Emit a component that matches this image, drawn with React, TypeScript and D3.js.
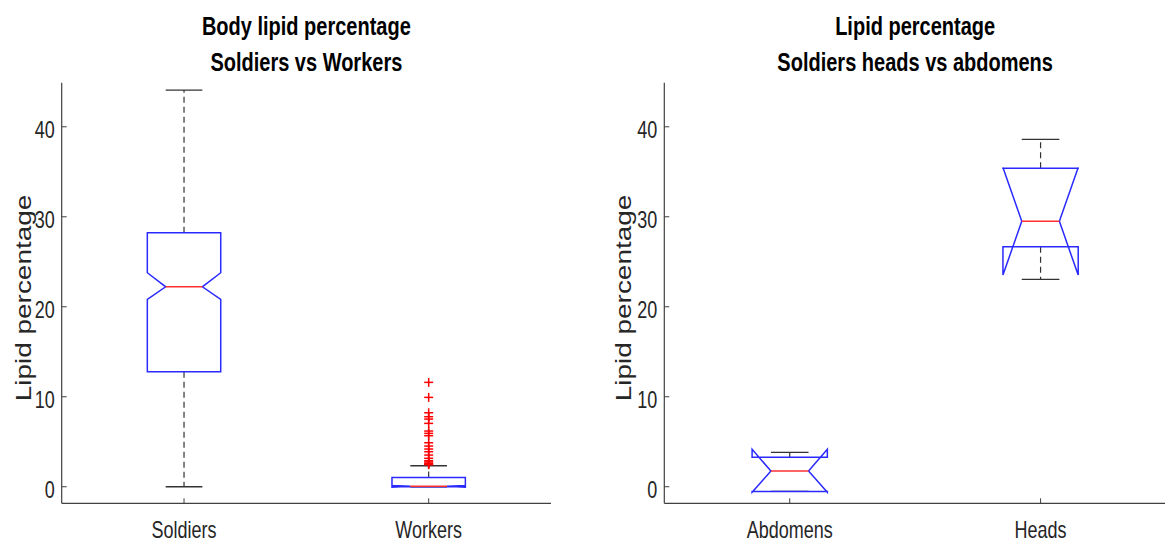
import React from "react";
import * as d3 from "d3";

// ---------- data ----------
const leftCategories = ["Soldiers", "Workers"];
const leftQ1 = [12.78, 0.0];
const leftMedian = [22.22, 0.05];
const leftQ3 = [28.22, 1.03];
const leftNotchLo = [20.82, -0.05];
const leftNotchHi = [23.78, 0.15];
const leftWhiskerLo = [0, 0];
const leftWhiskerHi = [44.08, 2.33];
const leftOutliers: number[][] = [
  [],
  [11.6, 9.93, 8.22, 7.78, 7.52, 7.04, 6.19, 5.93, 5.67, 4.89, 4.52, 4.19, 3.89, 3.52, 3.16, 2.89, 2.75, 2.6, 2.5, 2.45],
];

const rightCategories = ["Abdomens", "Heads"];
const rightQ1 = [-0.52, 26.67];
const rightMedian = [1.74, 29.5];
const rightQ3 = [3.27, 35.4];
const rightNotchLo = [-0.62, 23.52];
const rightNotchHi = [4.16, 35.48];
const rightWhiskerLo = [-0.52, 23.04];
const rightWhiskerHi = [3.82, 38.6];
const rightOutliers: number[][] = [[], []];

const yTicks = [0, 10, 20, 30, 40];
const yDomain = [-1.84, 44.9];

const leftTitle = ["Body lipid percentage", "Soldiers vs Workers"];
const rightTitle = ["Lipid percentage", "Soldiers heads vs abdomens"];
const yLabel = "Lipid percentage";

// ---------- style ----------
const FONT = "'Liberation Sans', Arial, Helvetica, sans-serif";
const TEXT = "#262626";
const AXIS = "#404040";
const STRETCH = 1.3;

const yScale = d3.scaleLinear().domain(yDomain).range([503.3, 82.7]);

type PanelProps = {
  x0: number;
  x1: number;
  categories: string[];
  q1: number[];
  med: number[];
  q3: number[];
  nlo: number[];
  nhi: number[];
  wlo: number[];
  whi: number[];
  outliers: number[][];
  title: string[];
  labelX: number;
};

function Panel(p: PanelProps) {
  const x = d3.scaleLinear().domain([0.5, 2.5]).range([p.x0, p.x1]);
  const y = yScale;
  const unit = x(1) - x(0);
  const bw = 0.15 * unit;
  const nw = 0.075 * unit;
  const cw = 0.075 * unit;
  const yBottom = y.range()[0];
  const yTop = y.range()[1];
  const cx = (p.x0 + p.x1) / 2;

  return (
    <g>
      {/* titles */}
      {p.title.map((t, i) => (
        <text
          key={i}
          transform={`translate(${cx},${i === 0 ? 35 : 71}) scale(1,${STRETCH})`}
          textAnchor="middle"
          fontFamily={FONT}
          fontWeight="bold"
          fontSize={20}
          fill="#000"
        >
          {t}
        </text>
      ))}
      {/* y label */}
      <text
        transform={`translate(${p.labelX},298) scale(1,${STRETCH}) rotate(-90)`}
        textAnchor="middle"
        fontFamily={FONT}
        fontSize={21.5}
        fill={TEXT}
      >
        {yLabel}
      </text>
      {/* axes */}
      <line x1={p.x0} x2={p.x0} y1={yTop} y2={yBottom} stroke={AXIS} strokeWidth={1.2} />
      <line x1={p.x0} x2={p.x1} y1={yBottom} y2={yBottom} stroke={AXIS} strokeWidth={1.2} />
      {yTicks.map((t) => (
        <g key={t}>
          <line x1={p.x0} x2={p.x0 + 5} y1={y(t)} y2={y(t)} stroke={AXIS} strokeWidth={1} />
          <text
            transform={`translate(${p.x0 - 7},${y(t) + 11.5}) scale(1,${STRETCH})`}
            textAnchor="end"
            fontFamily={FONT}
            fontSize={18}
            fill={TEXT}
          >
            {t}
          </text>
        </g>
      ))}
      {p.categories.map((c, i) => (
        <g key={c}>
          <line x1={x(i + 1)} x2={x(i + 1)} y1={yBottom} y2={yBottom - 5} stroke={AXIS} strokeWidth={1} />
          <text
            transform={`translate(${x(i + 1)},538) scale(1,${STRETCH})`}
            textAnchor="middle"
            fontFamily={FONT}
            fontSize={18}
            fill={TEXT}
          >
            {c}
          </text>
        </g>
      ))}
      {/* boxes */}
      {p.categories.map((c, i) => {
        const xc = x(i + 1);
        const L = xc - bw;
        const R = xc + bw;
        const path = d3.path();
        path.moveTo(L, y(p.q1[i]));
        path.lineTo(L, y(p.nlo[i]));
        path.lineTo(xc - nw, y(p.med[i]));
        path.lineTo(L, y(p.nhi[i]));
        path.lineTo(L, y(p.q3[i]));
        path.lineTo(R, y(p.q3[i]));
        path.lineTo(R, y(p.nhi[i]));
        path.lineTo(xc + nw, y(p.med[i]));
        path.lineTo(R, y(p.nlo[i]));
        path.lineTo(R, y(p.q1[i]));
        path.closePath();
        return (
          <g key={c}>
            {/* whiskers */}
            {p.whi[i] > p.q3[i] && (
              <line x1={xc} x2={xc} y1={y(p.q3[i])} y2={y(p.whi[i])} stroke="#333" strokeWidth={1.2} strokeDasharray="6,4" />
            )}
            {p.wlo[i] < p.q1[i] && (
              <line x1={xc} x2={xc} y1={y(p.q1[i])} y2={y(p.wlo[i])} stroke="#333" strokeWidth={1.2} strokeDasharray="6,4" />
            )}
            <line x1={xc - cw} x2={xc + cw} y1={y(p.whi[i])} y2={y(p.whi[i])} stroke="#333" strokeWidth={1.4} />
            <line x1={xc - cw} x2={xc + cw} y1={y(p.wlo[i])} y2={y(p.wlo[i])} stroke="#333" strokeWidth={1.4} />
            <path d={path.toString()} fill="none" stroke="#2a2aff" strokeWidth={1.5} strokeLinejoin="miter" />
            <line x1={xc - nw} x2={xc + nw} y1={y(p.med[i])} y2={y(p.med[i])} stroke="#ff3030" strokeWidth={1.5} />
            {p.outliers[i].map((v, k) => (
              <g key={k}>
                <line x1={xc - 4.5} x2={xc + 4.5} y1={y(v)} y2={y(v)} stroke="#ff0000" strokeWidth={1.5} />
                <line x1={xc} x2={xc} y1={y(v) - 4.5} y2={y(v) + 4.5} stroke="#ff0000" strokeWidth={1.5} />
              </g>
            ))}
          </g>
        );
      })}
    </g>
  );
}

export default function App() {
  return (
    <svg
      width={1165}
      height={542}
      style={{ position: "absolute", left: 0, top: 0, background: "#fff" }}
    >
      <rect width={1165} height={542} fill="#fff" />
      <Panel
        x0={61.7}
        x1={551}
        categories={leftCategories}
        q1={leftQ1}
        med={leftMedian}
        q3={leftQ3}
        nlo={leftNotchLo}
        nhi={leftNotchHi}
        wlo={leftWhiskerLo}
        whi={leftWhiskerHi}
        outliers={leftOutliers}
        title={leftTitle}
        labelX={30.5}
      />
      <Panel
        x0={664.3}
        x1={1166}
        categories={rightCategories}
        q1={rightQ1}
        med={rightMedian}
        q3={rightQ3}
        nlo={rightNotchLo}
        nhi={rightNotchHi}
        wlo={rightWhiskerLo}
        whi={rightWhiskerHi}
        outliers={rightOutliers}
        title={rightTitle}
        labelX={631}
      />
    </svg>
  );
}
